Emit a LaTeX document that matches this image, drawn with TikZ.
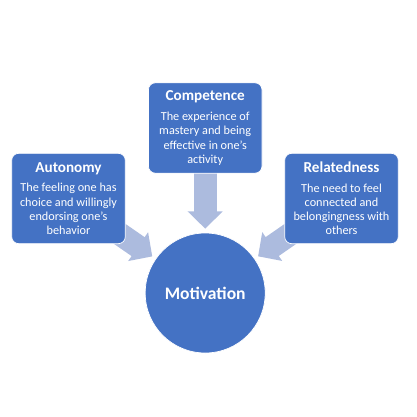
\documentclass[tikz,border=0pt]{standalone}
\usepackage{fontspec}
\setmainfont{Carlito}
\usetikzlibrary{arrows.meta, backgrounds}
\definecolor{boxblue}{HTML}{4472C4}
\definecolor{arrowblue}{RGB}{172,187,222}
\newcommand{\needname}[1]{{\fontsize{10.8}{12}\selectfont\bfseries #1}\\[4pt]}

\begin{document}
\begin{tikzpicture}[
    font=\fontsize{8.7}{10.1}\selectfont,
    need/.style={
        draw=white, fill=boxblue, text=white, rounded corners=5pt, align=center,
        minimum width=2.84cm, minimum height=2.26cm, inner sep=2pt, line width=0.5pt
    },
    goal/.style={
        circle, draw=white, fill=boxblue, text=white, minimum size=3.0cm,
        inner sep=0pt, line width=0.5pt, font=\fontsize{12.5}{14}\selectfont\bfseries
    },
    fat/.style={-{Triangle[length=0.43cm,width=0.85cm]}, draw=arrowblue,
        line width=0.575cm, shorten >=0.1cm},
]
\useasboundingbox (0,0) rectangle (10.425,-10.425);
% ---------- three needs ----------
\node[need] (competence)  at (5.13, -3.2)      {\needname{Competence}The experience of\\mastery and being\\effective in one’s\\activity};
\node[need] (autonomy)    at (1.7125, -4.9625) {\needname{Autonomy}The feeling one has\\choice and willingly\\endorsing one’s\\behavior};
\node[need] (relatedness) at (8.5375, -4.9625) {\needname{Relatedness}The need to feel\\connected and\\belongingness with\\others};
% ---------- outcome ----------
\node[goal] (motivation) at (5.13, -7.325) {Motivation};
% ===================== ARROWS =====================
\begin{scope}[on background layer]
\draw[fat] (competence.center)  -- (motivation);
\draw[fat] (autonomy.center)    -- (motivation);
\draw[fat] (relatedness.center) -- (motivation);
\end{scope}
\end{tikzpicture}
\end{document}
